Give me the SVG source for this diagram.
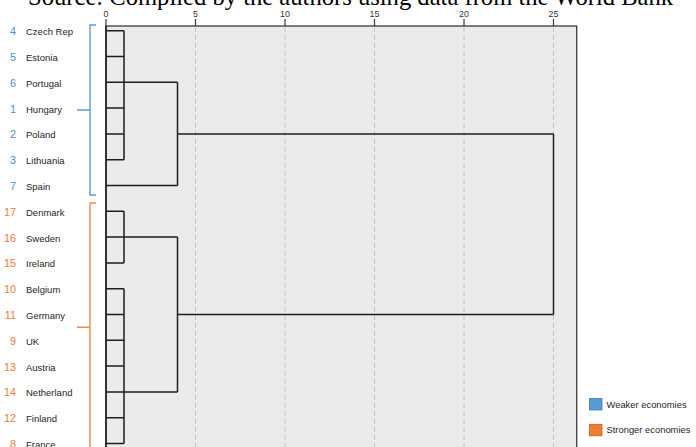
<svg xmlns="http://www.w3.org/2000/svg" width="696" height="447" viewBox="0 0 696 447">
<style>
.title{font-family:"Liberation Serif","Times New Roman",serif;font-size:24.6px;fill:#000}
.tick{font-family:"Liberation Sans",Arial,sans-serif;font-size:8.8px;fill:#333;text-anchor:middle}
.name{font-family:"Liberation Sans",Arial,sans-serif;font-size:9.5px;fill:#262626}
.num{font-family:"Liberation Sans",Arial,sans-serif;font-size:10.8px;text-anchor:end}
.wk{fill:#4a8fd0}
.st{fill:#ee7b35}
.grid{stroke:#c4c4c4;stroke-width:1;stroke-dasharray:5 3;fill:none}
.dl{stroke:#1e1e1e;stroke-width:1.5;fill:none}
.frame{stroke:#3a3a3a;stroke-width:1.3;fill:#ebebeb}
.br{fill:none;stroke-width:1.4}
.leg{font-family:"Liberation Sans",Arial,sans-serif;font-size:9.4px;fill:#262626}
</style>
<rect width="696" height="447" fill="#fff"/>
<text class="title" x="28" y="5">Source: Compiled by the authors using data from the World Bank</text>
<g id="plot">
<rect class="frame" x="106" y="26" width="470.7" height="430"/>
<path class="grid" d="M195.5,27V447M285,27V447M374.5,27V447M464,27V447M553.5,27V447"/>
<path stroke="#3a3a3a" stroke-width="1.2" d="M106,19V26M195.5,19V26M285,19V26M374.5,19V26M464,19V26M553.5,19V26"/>
<text class="tick" x="106" y="16.5">0</text>
<text class="tick" x="195.5" y="16.5">5</text>
<text class="tick" x="285" y="16.5">10</text>
<text class="tick" x="374.5" y="16.5">15</text>
<text class="tick" x="464" y="16.5">20</text>
<text class="tick" x="553.5" y="16.5">25</text>
</g>
<g id="leaves">
<g id="n4"><text class="num wk" x="16" y="35.2">4</text><text class="name" x="26" y="35.1">Czech Rep</text></g>
<g id="n5"><text class="num wk" x="16" y="61">5</text><text class="name" x="26" y="60.9">Estonia</text></g>
<g id="n6"><text class="num wk" x="16" y="86.8">6</text><text class="name" x="26" y="86.7">Portugal</text></g>
<g id="n1"><text class="num wk" x="16" y="112.6">1</text><text class="name" x="26" y="112.5">Hungary</text></g>
<g id="n2"><text class="num wk" x="16" y="138.4">2</text><text class="name" x="26" y="138.3">Poland</text></g>
<g id="n3"><text class="num wk" x="16" y="164.2">3</text><text class="name" x="26" y="164.1">Lithuania</text></g>
<g id="n7"><text class="num wk" x="16" y="190">7</text><text class="name" x="26" y="189.9">Spain</text></g>
<g id="n17"><text class="num st" x="16" y="215.8">17</text><text class="name" x="26" y="215.7">Denmark</text></g>
<g id="n16"><text class="num st" x="16" y="241.6">16</text><text class="name" x="26" y="241.5">Sweden</text></g>
<g id="n15"><text class="num st" x="16" y="267.4">15</text><text class="name" x="26" y="267.3">Ireland</text></g>
<g id="n10"><text class="num st" x="16" y="293.2">10</text><text class="name" x="26" y="293.1">Belgium</text></g>
<g id="n11"><text class="num st" x="16" y="319">11</text><text class="name" x="26" y="318.9">Germany</text></g>
<g id="n9"><text class="num st" x="16" y="344.8">9</text><text class="name" x="26" y="344.7">UK</text></g>
<g id="n13"><text class="num st" x="16" y="370.6">13</text><text class="name" x="26" y="370.5">Austria</text></g>
<g id="n14"><text class="num st" x="16" y="396.4">14</text><text class="name" x="26" y="396.3">Netherland</text></g>
<g id="n12"><text class="num st" x="16" y="422.2">12</text><text class="name" x="26" y="422.1">Finland</text></g>
<g id="n8"><text class="num st" x="16" y="448">8</text><text class="name" x="26" y="447.9">France</text></g>
</g>
<g id="brackets">
<path class="br" stroke="#5a9bd8" d="M96,25H90V195H96M77,110H90"/>
<path class="br" stroke="#f08a4b" d="M96,203H90V452M77,327.3H90"/>
</g>
<g id="connectors">
<path class="dl" d="M106,26V447"/>
<path class="dl" d="M106,30.7H124M106,56.5H124M106,82.3H177.5M106,108.1H124M106,133.9H124M106,159.7H124M106,185.5H177.5M124,30.7V159.7M177.5,82.3V185.5M177.5,133.9H553.5"/>
<path class="dl" d="M106,211.3H124M106,237.1H177.5M106,262.9H124M124,211.3V262.9M106,288.7H124M106,314.5H124M106,340.3H124M106,366.1H124M106,391.9H177.5M106,417.7H124M106,443.5H124M124,288.7V443.5M177.5,237.1V391.9M177.5,314.5H553.5"/>
<path class="dl" d="M553.5,133.9V314.5"/>
</g>
<g id="legend">
<g id="leg-weak"><rect x="589.5" y="398.5" width="12.5" height="11.5" fill="#5b9bd5" stroke="#3f7ab5" stroke-width="0.8"/><text class="leg" x="606.5" y="407.5">Weaker economies</text></g>
<g id="leg-strong"><rect x="589.5" y="424.3" width="12.5" height="11.5" fill="#ed7d31" stroke="#c0601f" stroke-width="0.8"/><text class="leg" x="606.5" y="433">Stronger economies</text></g>
</g>
</svg>
